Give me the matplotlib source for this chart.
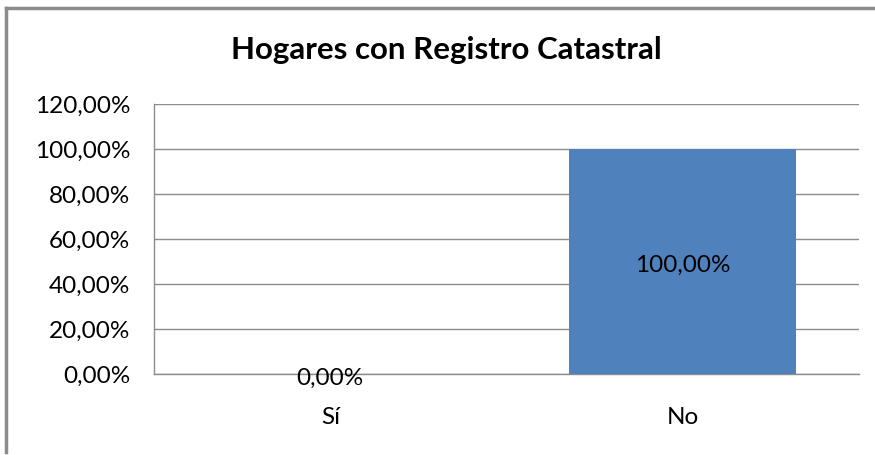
import matplotlib.pyplot as plt
from matplotlib.lines import Line2D

# Data
categories = ['Sí', 'No']
values = [0.0, 100.0]
yticks = [0, 20, 40, 60, 80, 100, 120]

plt.rcParams['font.family'] = ['Lato', 'DejaVu Sans']

fig = plt.figure(figsize=(8.75, 4.55), dpi=100)
ax = fig.add_axes([154/875, 81/455, 705/875, 270/455])

x = range(len(categories))
bars = ax.bar(x, values, width=0.645, color='#4f81bd', zorder=3)

ax.set_xlim(-0.5, len(categories) - 0.5)
ax.set_ylim(0, 120)
ax.set_yticks(yticks)
ax.set_yticklabels(['%d,00%%' % v for v in yticks], fontsize=17.5)
ax.set_xticks(list(x))
ax.set_xticklabels(categories, fontsize=17.5)
ax.tick_params(axis='y', length=0, pad=17)
ax.tick_params(axis='x', length=0, pad=24)

ax.grid(axis='y', color='#8c8c8c', linewidth=1, zorder=0)
for s in ['top', 'right']:
    ax.spines[s].set_visible(False)
for s in ['left', 'bottom']:
    ax.spines[s].set_color('#8c8c8c')
    ax.spines[s].set_linewidth(1)

# data labels in the middle of each bar, nudged down a little like Excel
for xi, v in zip(x, values):
    ax.annotate('%d,00%%' % v, (xi, v / 2), xytext=(0, -3), textcoords='offset points',
                ha='center', va='center', fontsize=17.5, color='black', zorder=4)

fig.suptitle('Hogares con Registro Catastral', x=446/875, y=1 - 50/455,
             va='center', fontsize=22.5, fontweight='bold')

# outer chart border (top and left visible)
fig.add_artist(Line2D([6/875, 1], [1 - 8/455, 1 - 8/455], color='#8c8c8c', lw=2.5,
                      transform=fig.transFigure))
fig.add_artist(Line2D([6/875, 6/875], [1 - 8/455, 3/455], color='#8c8c8c', lw=2.5,
                      transform=fig.transFigure))

fig.savefig('out.png', dpi=100)
